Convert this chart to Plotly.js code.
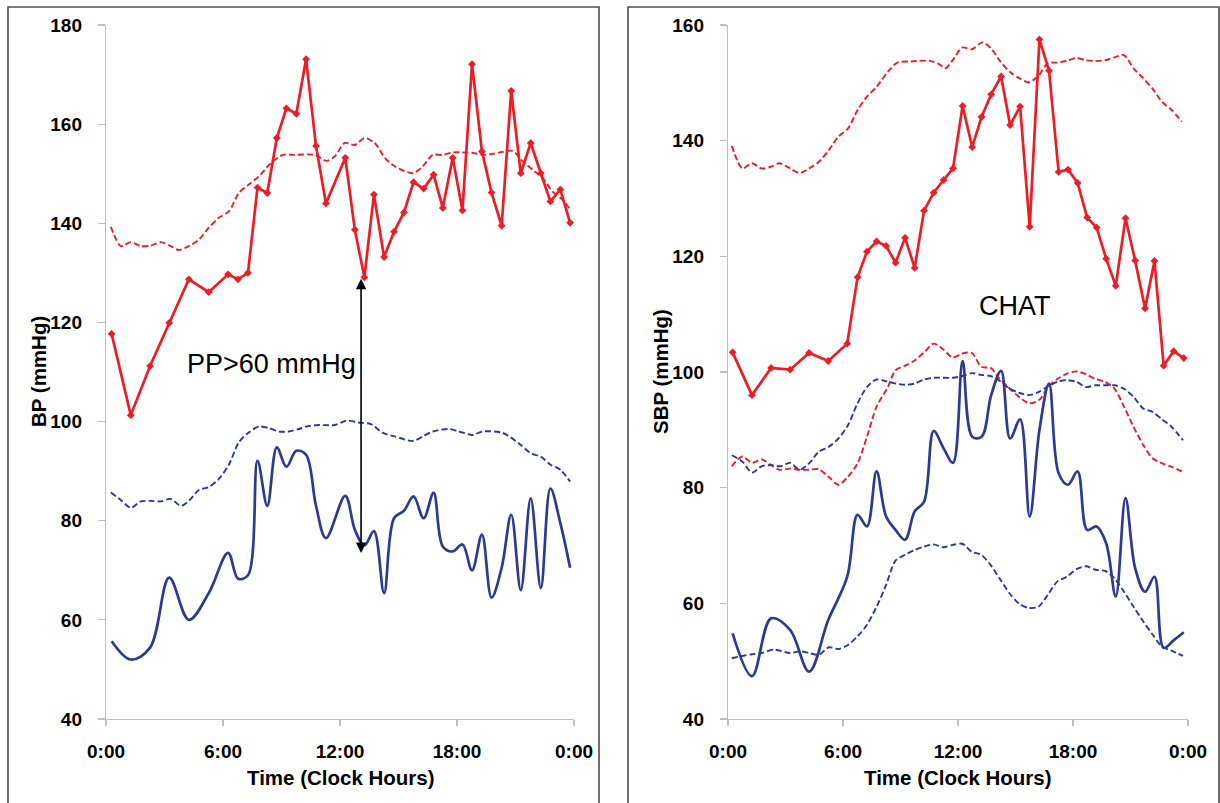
<!DOCTYPE html>
<html>
<head>
<meta charset="utf-8">
<script src="https://cdn.plot.ly/plotly-3.0.1.min.js"></script>
<style>
  html, body { margin: 0; padding: 0; background: #fff; }
  #chart { width: 1220px; height: 803px; }
</style>
</head>
<body>
<div id="chart"></div>
<script>
// ---------- data (hours since midnight, mmHg) ----------
var xTickVals = [0, 6, 12, 18, 24];
var xTickText = ["0:00", "6:00", "12:00", "18:00", "0:00"];

// Left panel: measured SBP / DBP
var leftTime = [0.29,1.27,2.26,3.24,4.25,5.27,6.26,6.77,7.28,7.77,8.27,8.76,9.25,9.76,
  10.26,10.77,11.28,12.27,12.76,13.25,13.74,14.26,14.77,15.28,15.77,16.29,16.8,17.27,
  17.78,18.28,18.77,19.28,19.77,20.29,20.78,21.27,21.78,22.3,22.79,23.3,23.8];
var leftSBP = [117.7,101.3,111.2,119.9,128.7,126.1,129.7,128.7,130.0,147.2,146.1,157.2,163.2,162.1,
  173.1,155.6,144.0,153.2,138.7,129.1,145.8,133.2,138.3,142.2,148.3,147.0,149.8,143.1,
  153.2,142.6,172.1,154.5,146.2,139.5,166.7,150.1,156.2,150.1,144.4,146.8,140.1];
var leftDBP = [55.7,52.0,54.4,68.5,60.0,65.4,73.5,68.3,69.0,92.1,83.0,94.8,90.9,94.1,
  93.3,83.0,76.5,85.0,78.2,75.0,77.9,65.4,80.5,82.0,84.9,80.5,85.6,74.8,
  73.8,75.2,70.0,77.2,64.5,70.5,81.2,66.0,84.5,66.4,86.5,79.5,70.5];

// Left panel: reference limits (dashed)
var leftSBPLimTime = [0.25,0.76,1.27,1.78,2.3,2.81,3.32,3.73,4.25,4.76,5.27,5.78,6.3,6.81,7.32,7.85,
  8.45,9.07,9.68,10.7,11.32,11.73,12.25,12.76,13.27,13.78,14.3,14.81,15.73,16.25,16.76,17.27,
  17.78,18.3,18.8,19.32,19.84,20.35,20.86,21.37,21.88,22.4,22.9,23.4,23.8];
var leftSBPLim = [139.3,135.4,136.2,135.4,135.5,136.2,135.4,134.6,135.4,136.7,139.1,141.1,142.4,146.1,147.8,149.5,
  152.1,153.8,153.8,153.8,152.6,153.5,156.2,155.8,157.2,156.2,153.2,151.5,150.1,151.5,153.8,153.8,
  154.3,154.3,154.2,153.8,154.0,154.4,154.6,152.5,150.8,149.1,146.4,144.8,142.8];
var leftDBPLimTime = [0.25,0.76,1.27,1.78,2.3,2.81,3.32,3.84,4.25,4.76,5.27,5.78,6.3,6.81,7.32,7.84,
  8.35,8.86,9.37,9.89,10.4,10.91,11.73,12.35,12.96,13.58,14.2,14.81,15.73,16.25,16.76,17.58,
  18.1,18.8,19.32,20.35,21.17,21.78,22.3,22.8,23.3,23.8];
var leftDBPLim = [85.7,84.2,82.6,83.9,84.0,83.9,84.4,83.0,84.0,86.2,86.8,88.4,91.3,95.8,97.8,99.0,
  98.7,98.0,98.0,98.5,99.1,99.3,99.3,100.2,99.8,99.5,97.7,97.0,96.1,97.0,98.0,98.5,
  98.0,97.3,98.0,97.7,95.6,93.6,92.9,91.3,90.3,87.9];

// Right panel (CHAT): measured SBP / DBP
var rightTime = [0.24,1.25,2.25,3.24,4.23,5.23,6.22,6.76,7.25,7.75,8.25,8.74,9.24,9.74,
  10.23,10.73,11.25,11.74,12.24,12.74,13.23,13.73,14.25,14.72,15.24,15.74,16.25,16.75,
  17.25,17.74,18.24,18.74,19.23,19.73,20.23,20.74,21.24,21.76,22.25,22.73,23.25,23.78];
var rightSBP = [103.4,96.0,100.7,100.4,103.3,101.9,104.9,116.4,120.8,122.6,121.8,118.9,123.2,118.0,
  127.9,131.0,133.2,135.2,146.0,138.9,144.1,148.0,151.1,142.7,145.9,125.1,157.5,152.1,
  134.6,135.0,132.7,126.7,125.0,119.6,114.9,126.6,119.3,111.0,119.2,101.1,103.6,102.4];
var rightDBP = [54.8,47.4,57.4,55.4,48.2,57.1,64.6,75.3,73.3,82.8,75.0,72.7,71.0,75.9,
  77.6,89.8,86.8,84.3,101.9,88.8,88.8,96.0,100.2,88.5,91.8,75.0,90.0,98.0,
  82.5,80.5,82.8,72.7,73.3,70.4,61.2,78.2,66.1,62.0,64.6,52.3,53.6,55.0];

// Right panel: reference limits (dashed)
var rightLimTime = [0.2,0.75,1.25,1.75,2.25,2.68,3.24,3.74,4.23,4.73,5.27,5.76,6.26,6.76,7.25,7.75,
  8.34,8.84,9.54,10.53,11.03,11.33,11.72,12.22,12.72,13.27,13.71,14.21,14.7,15.2,15.7,16.19,
  16.69,17.19,17.68,18.18,18.68,19.17,19.67,20.17,20.66,21.16,21.66,22.15,22.65,23.15,23.68];
var rightSBPUpper = [139.1,135.2,136.1,135.2,135.5,136.1,135.2,134.4,135.2,136.3,138.4,140.7,142.1,145.3,147.6,149.3,
  151.9,153.5,153.7,153.8,153.2,152.5,153.9,156.1,155.8,157.0,156.0,153.7,151.9,150.8,150.1,151.2,
  153.4,153.5,153.8,154.3,153.9,153.8,153.9,154.4,154.8,152.5,150.8,149.0,146.7,145.3,143.3];
var rightSBPLowerTime = [0.2,0.75,1.25,1.75,2.25,2.68,3.24,3.74,4.23,4.73,5.27,5.76,6.26,6.76,7.25,7.75,
  8.34,8.74,9.24,9.74,10.23,10.73,11.23,11.72,12.22,12.72,13.21,13.71,14.1,15.7,16.25,16.69,
  17.19,17.68,18.18,18.68,19.17,19.67,20.17,20.66,21.16,21.66,22.15,22.65,23.15,23.68];
var rightSBPLower = [83.7,85.4,84.3,84.9,83.9,83.1,83.3,83.1,83.1,83.2,81.8,80.5,81.9,84.2,88.8,94.0,
  97.4,100.3,101.1,102.0,103.4,104.9,103.9,102.5,103.2,103.3,100.9,100.7,99.1,94.6,95.2,97.4,
  98.8,99.7,100.1,99.6,98.8,98.3,97.1,94.0,90.5,87.4,85.1,84.2,83.6,82.8];
var rightDBPUpperTime = [0.2,0.75,1.25,1.75,2.25,2.74,3.24,3.74,4.23,4.73,5.27,5.76,6.26,6.76,7.25,7.75,
  8.25,8.74,9.24,9.74,10.23,10.73,11.72,12.22,12.72,13.21,13.71,14.21,14.7,15.2,15.7,16.19,
  16.69,17.19,17.68,18.18,18.68,19.17,19.67,20.17,20.66,21.16,21.66,22.15,22.65,23.15,23.74];
var rightDBPUpper = [85.6,84.5,82.6,83.7,83.9,83.7,84.3,83.1,84.2,86.2,87.1,88.5,90.8,94.6,97.4,98.7,
  98.4,98.0,97.8,98.0,98.7,99.0,99.0,99.3,99.8,99.5,99.3,98.4,97.1,96.4,96.0,96.5,
  97.5,98.3,98.6,98.3,97.4,97.7,97.7,97.7,97.1,95.7,93.7,93.1,91.8,90.5,88.2];
var rightDBPLowerTime = [0.2,0.75,1.25,1.75,2.38,3.24,3.77,4.23,4.73,5.27,5.76,6.26,6.76,7.25,7.75,
  8.25,8.74,9.24,9.74,10.23,10.73,11.23,11.72,12.22,12.72,13.21,13.71,14.21,14.7,15.2,15.7,16.19,
  16.69,17.19,17.68,18.18,18.68,19.17,19.67,20.17,20.66,21.16,21.66,22.15,22.65,23.15,23.74];
var rightDBPLower = [50.5,50.9,51.2,51.4,52.0,51.4,51.7,51.4,51.1,52.4,52.1,52.8,54.3,56.3,59.4,
  63.2,67.4,68.4,69.2,69.8,70.2,69.7,70.1,70.3,68.9,68.4,66.6,64.1,61.7,59.9,59.2,59.4,
  61.5,63.8,64.6,65.9,66.4,65.8,65.6,64.3,62.0,59.4,56.9,54.6,52.5,51.8,50.9];

// ---------- styles ----------
var RED = "#EE1C25";
var BLUE = "#2B3A92";

function solidMarked(x, y, xa, ya) {
  return {x: x, y: y, xaxis: xa, yaxis: ya, type: "scatter", mode: "lines+markers",
    line: {color: RED, width: 2.7},
    marker: {symbol: "diamond", size: 6, color: RED},
    hoverinfo: "skip"};
}
function solidSmooth(x, y, xa, ya) {
  return {x: x, y: y, xaxis: xa, yaxis: ya, type: "scatter", mode: "lines",
    line: {color: BLUE, width: 2.7, shape: "spline", smoothing: 1},
    hoverinfo: "skip"};
}
function dashed(x, y, color, xa, ya) {
  return {x: x, y: y, xaxis: xa, yaxis: ya, type: "scatter", mode: "lines",
    line: {color: color, width: 1.9, dash: "6px,3px", shape: "spline", smoothing: 0.8},
    hoverinfo: "skip"};
}

var traces = [
  dashed(leftSBPLimTime, leftSBPLim, RED, "x", "y"),
  dashed(leftDBPLimTime, leftDBPLim, BLUE, "x", "y"),
  solidMarked(leftTime, leftSBP, "x", "y"),
  solidSmooth(leftTime, leftDBP, "x", "y"),
  dashed(rightLimTime, rightSBPUpper, RED, "x2", "y2"),
  dashed(rightSBPLowerTime, rightSBPLower, RED, "x2", "y2"),
  dashed(rightDBPUpperTime, rightDBPUpper, BLUE, "x2", "y2"),
  dashed(rightDBPLowerTime, rightDBPLower, BLUE, "x2", "y2"),
  solidMarked(rightTime, rightSBP, "x2", "y2"),
  solidSmooth(rightTime, rightDBP, "x2", "y2")
];

var W = 1220, H = 803;
var tickFont = {family: "Liberation Sans, Arial, sans-serif", size: 19, weight: 700, color: "#000"};
function xAxis(domain, anchor) {
  return {domain: domain, anchor: anchor, range: [0, 24], tickvals: xTickVals, ticktext: xTickText,
    showgrid: false, zeroline: false, showline: true, linecolor: "#BFBFBF", linewidth: 1.2,
    ticks: "outside", ticklen: 6, tickcolor: "#BFBFBF", tickwidth: 1.2,
    ticklabelstandoff: 9, tickfont: tickFont, fixedrange: true};
}
function yAxis(domain, anchor, range, dtick) {
  return {domain: domain, anchor: anchor, range: range, tick0: range[0], dtick: dtick,
    showgrid: false, zeroline: false, showline: true, linecolor: "#BFBFBF", linewidth: 1.2,
    ticks: "outside", ticklen: 7, tickcolor: "#BFBFBF", tickwidth: 1.2,
    ticklabelstandoff: 12, tickfont: tickFont, fixedrange: true};
}
var yDom = [1 - 719 / H, 1 - 25 / H];

var titleFont = {family: "Liberation Sans, Arial, sans-serif", size: 20.5, color: "#000"};
var labelFont = {family: "Liberation Sans, Arial, sans-serif", size: 27, color: "#000"};

var layout = {
  width: W, height: H,
  margin: {l: 0, r: 0, t: 0, b: 0},
  paper_bgcolor: "#fff", plot_bgcolor: "rgba(0,0,0,0)",
  showlegend: false,
  xaxis: xAxis([106 / W, 574 / W], "y"),
  yaxis: yAxis(yDom, "x", [40, 180], 20),
  xaxis2: xAxis([728 / W, 1188 / W], "y2"),
  yaxis2: yAxis(yDom, "x2", [40, 160], 20),
  shapes: [
    {type: "rect", xref: "paper", yref: "paper", x0: 8 / W, x1: 599 / W, y0: -0.02, y1: 1 - 7 / H,
      line: {color: "#4D4D4D", width: 1.6}},
    {type: "rect", xref: "paper", yref: "paper", x0: 628 / W, x1: 1219 / W, y0: -0.02, y1: 1 - 7 / H,
      line: {color: "#4D4D4D", width: 1.6}}
  ],
  annotations: [
    {xref: "paper", yref: "paper", x: 38 / W, y: 1 - 372 / H, text: "<b>BP (mmHg)</b>", textangle: -90,
      showarrow: false, font: titleFont, xanchor: "center", yanchor: "middle"},
    {xref: "paper", yref: "paper", x: 660 / W, y: 1 - 372 / H, text: "<b>SBP (mmHg)</b>", textangle: -90,
      showarrow: false, font: titleFont, xanchor: "center", yanchor: "middle"},
    {xref: "paper", yref: "paper", x: 341 / W, y: 1 - 777 / H, text: "<b>Time (Clock Hours)</b>",
      showarrow: false, font: titleFont, xanchor: "center", yanchor: "middle"},
    {xref: "paper", yref: "paper", x: 958 / W, y: 1 - 777 / H, text: "<b>Time (Clock Hours)</b>",
      showarrow: false, font: titleFont, xanchor: "center", yanchor: "middle"},
    {xref: "paper", yref: "paper", x: 271 / W, y: 1 - 364 / H, text: "PP&gt;60 mmHg",
      showarrow: false, font: labelFont, xanchor: "center", yanchor: "middle"},
    {xref: "paper", yref: "paper", x: 1015 / W, y: 1 - 306 / H, text: "CHAT",
      showarrow: false, font: labelFont, xanchor: "center", yanchor: "middle"},
    // double-headed pulse-pressure arrow
    {xref: "x", yref: "y", x: 13.08, y: 128.8, axref: "x", ayref: "y", ax: 13.08, ay: 73.2,
      text: "", showarrow: true, arrowhead: 2, startarrowhead: 2, arrowside: "end+start",
      arrowsize: 1.3, startarrowsize: 1.3, arrowwidth: 1.6, arrowcolor: "#000", standoff: 0, startstandoff: 0}
  ]
};

Plotly.newPlot("chart", traces, layout, {staticPlot: true, displayModeBar: false});
</script>
</body>
</html>
